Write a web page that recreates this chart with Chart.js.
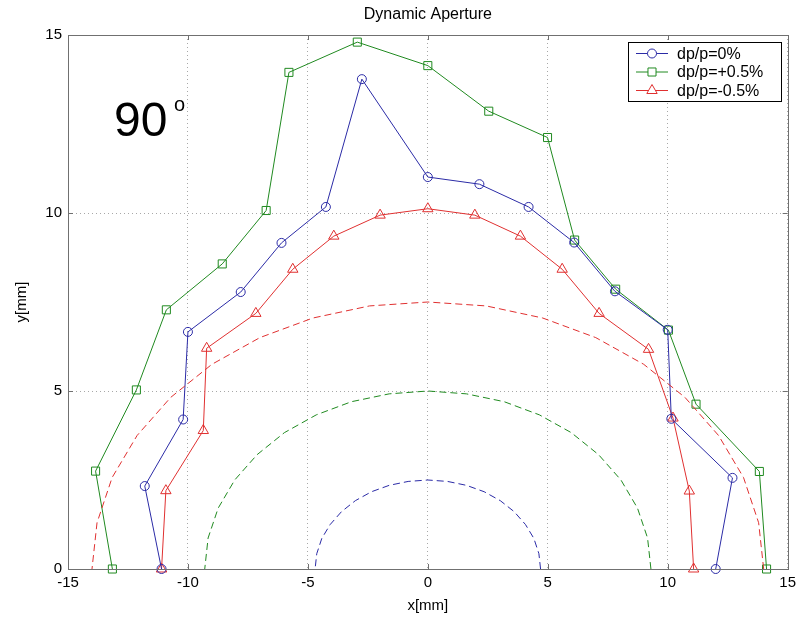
<!DOCTYPE html>
<html>
<head>
<meta charset="utf-8">
<title>Dynamic Aperture</title>
<script src="https://cdn.jsdelivr.net/npm/chart.js@4.4.1/dist/chart.umd.min.js"></script>
<style>
    html, body { margin: 0; padding: 0; background: #ffffff; }
    #chart { display: block; }
</style>
</head>
<body>
<canvas id="chart" width="801" height="625"></canvas>
<script>
// ===================================
// Data
// ===================================

const titleText = 'Dynamic Aperture';
const xAxisLabel = 'x[mm]';
const yAxisLabel = 'y[mm]';
const angleLabel = '90';

const xTicks = [-15, -10, -5, 0, 5, 10, 15];
const yTicks = [0, 5, 10, 15];

const seriesLabels = ['dp/p=0%', 'dp/p=+0.5%', 'dp/p=-0.5%'];

// dp/p = 0%
const zeroX = [-11.1, -11.8, -10.2, -10.0, -7.8, -6.1, -4.25, -2.75, 0, 2.15, 4.2, 6.1, 7.8, 10.0, 10.15, 12.7, 12.0];
const zeroY = [0, 2.33, 4.2, 6.66, 7.78, 9.16, 10.17, 13.76, 11.01, 10.81, 10.17, 9.17, 7.8, 6.72, 4.22, 2.56, 0];

// dp/p = +0.5%
const plusX = [-13.15, -13.85, -12.15, -10.9, -8.57, -6.74, -5.79, -2.94, 0, 2.54, 4.99, 6.12, 7.83, 10.03, 11.18, 13.82, 14.12];
const plusY = [0, 2.75, 5.03, 7.28, 8.57, 10.07, 13.95, 14.8, 14.14, 12.86, 12.12, 9.24, 7.86, 6.71, 4.63, 2.74, 0];

// dp/p = -0.5%
const minusX = [-11.1, -10.92, -9.36, -9.22, -7.17, -5.63, -3.92, -1.99, 0, 1.96, 3.86, 5.6, 7.14, 9.2, 10.22, 10.9, 11.08];
const minusY = [0, 2.2, 3.89, 6.2, 7.18, 8.42, 9.35, 9.94, 10.12, 9.94, 9.35, 8.42, 7.18, 6.17, 4.24, 2.19, 0];

// dashed reference contours
const outerX = [14, 13.79, 13.16, 12.12, 10.72, 9.0, 7.0, 4.79, 2.43, 0, -2.43, -4.79, -7.0, -9.0, -10.72, -12.12, -13.16, -13.79, -14];
const outerY = [0, 1.30, 2.57, 3.75, 4.82, 5.75, 6.50, 7.05, 7.39, 7.5, 7.39, 7.05, 6.50, 5.75, 4.82, 3.75, 2.57, 1.30, 0];

const middleX = [9.3, 9.16, 8.74, 8.05, 7.12, 5.98, 4.65, 3.18, 1.61, 0, -1.61, -3.18, -4.65, -5.98, -7.12, -8.05, -8.74, -9.16, -9.3];
const middleY = [0, 0.87, 1.71, 2.5, 3.21, 3.83, 4.33, 4.70, 4.92, 5, 4.92, 4.70, 4.33, 3.83, 3.21, 2.5, 1.71, 0.87, 0];

const innerX = [4.7, 4.63, 4.42, 4.07, 3.6, 3.02, 2.35, 1.61, 0.82, 0, -0.82, -1.61, -2.35, -3.02, -3.6, -4.07, -4.42, -4.63, -4.7];
const innerY = [0, 0.43, 0.86, 1.25, 1.61, 1.92, 2.17, 2.35, 2.46, 2.5, 2.46, 2.35, 2.17, 1.92, 1.61, 1.25, 0.86, 0.43, 0];

// ===================================
// Chart
// ===================================

const BLUE = '#2b2ba6';
const GREEN = '#208a20';
const RED = '#e03030';
const FRAME = '#707070';
const FONT = '"Liberation Sans", Arial, sans-serif';

function toPoints(xs, ys) {
    return xs.map((x, i) => ({ x: x, y: ys[i] }));
}

function markerSeries(label, xs, ys, color, style, radius) {
    return {
        label: label,
        data: toPoints(xs, ys),
        showLine: true,
        borderColor: color,
        borderWidth: 1,
        pointStyle: style,
        pointRadius: radius,
        pointBorderColor: color,
        pointBackgroundColor: 'rgba(0,0,0,0)',
        pointBorderWidth: 1,
        clip: false
    };
}

function dashedSeries(xs, ys, color) {
    return {
        label: '',
        data: toPoints(xs, ys),
        showLine: true,
        borderColor: color,
        borderWidth: 1,
        borderDash: [7, 4],
        pointRadius: 0,
        inLegend: false
    };
}

// frame, inward ticks, title, legend and the angle note
const decorations = {
    id: 'decorations',
    afterDraw(chart) {
        const ctx = chart.ctx;
        const area = chart.chartArea;
        const xs = chart.scales.x;
        const ys = chart.scales.y;

        ctx.save();
        ctx.strokeStyle = FRAME;
        ctx.lineWidth = 1;
        ctx.setLineDash([]);
        ctx.strokeRect(Math.round(area.left) + 0.5, Math.round(area.top) + 0.5,
            Math.round(area.right - area.left), Math.round(area.bottom - area.top));

        const tick = 5;
        ctx.beginPath();
        xTicks.forEach(v => {
            const px = Math.round(xs.getPixelForValue(v)) + 0.5;
            ctx.moveTo(px, area.bottom); ctx.lineTo(px, area.bottom - tick);
            ctx.moveTo(px, area.top); ctx.lineTo(px, area.top + tick);
        });
        yTicks.forEach(v => {
            const py = Math.round(ys.getPixelForValue(v)) + 0.5;
            ctx.moveTo(area.left, py); ctx.lineTo(area.left + tick, py);
            ctx.moveTo(area.right, py); ctx.lineTo(area.right - tick, py);
        });
        ctx.stroke();

        // title
        ctx.fillStyle = '#000000';
        ctx.font = '16px ' + FONT;
        ctx.textAlign = 'center';
        ctx.textBaseline = 'middle';
        ctx.fillText(titleText, (area.left + area.right) / 2, 15);

        // 90 degree note
        ctx.textAlign = 'left';
        ctx.textBaseline = 'alphabetic';
        ctx.font = '48px ' + FONT;
        ctx.fillText(angleLabel, 114, 136);
        ctx.font = '20px ' + FONT;
        ctx.fillText('o', 174, 111);

        // legend
        const lx = 628, ly = 42, lw = 153, lh = 59;
        ctx.fillStyle = '#ffffff';
        ctx.fillRect(lx, ly, lw, lh);
        ctx.strokeStyle = '#000000';
        ctx.strokeRect(lx + 0.5, ly + 0.5, lw, lh);
        ctx.font = '16px ' + FONT;
        ctx.textBaseline = 'middle';
        chart.data.datasets.forEach(ds => {
            if (ds.inLegend === false) return;
            const i = seriesLabels.indexOf(ds.label);
            const rowY = ly + 11.5 + i * 18.5;
            ctx.strokeStyle = ds.borderColor;
            ctx.beginPath();
            ctx.moveTo(636, rowY);
            ctx.lineTo(668, rowY);
            ctx.stroke();
            ctx.fillStyle = '#ffffff';
            Chart.helpers.drawPoint(ctx, {
                pointStyle: ds.pointStyle,
                radius: ds.pointRadius,
                borderWidth: 1
            }, 652, rowY);
            ctx.fillStyle = '#000000';
            ctx.fillText(ds.label, 677, rowY + 1);
        });
        ctx.restore();
    }
};

const ctx = document.getElementById('chart');

new Chart(ctx, {
    type: 'scatter',
    data: {
        datasets: [
            dashedSeries(outerX, outerY, RED),
            dashedSeries(middleX, middleY, GREEN),
            dashedSeries(innerX, innerY, BLUE),
            markerSeries(seriesLabels[0], zeroX, zeroY, BLUE, 'circle', 4.5),
            markerSeries(seriesLabels[1], plusX, plusY, GREEN, 'rect', 5.7),
            markerSeries(seriesLabels[2], minusX, minusY, RED, 'triangle', 6)
        ]
    },
    options: {
        responsive: false,
        animation: false,
        events: [],
        layout: {
            padding: { top: 35, right: 13, left: 0, bottom: 0 }
        },
        plugins: {
            legend: { display: false },
            tooltip: { enabled: false },
            title: { display: false }
        },
        scales: {
            x: {
                type: 'linear',
                min: -15,
                max: 15,
                afterBuildTicks: scale => { scale.ticks = xTicks.map(v => ({ value: v })); },
                afterFit: scale => { scale.height = 56; },
                grid: { color: '#a8a8a8', drawTicks: false, lineWidth: 1 },
                border: { display: false, dash: [1, 3] },
                ticks: {
                    color: '#000000',
                    padding: 5,
                    maxRotation: 0,
                    font: { family: FONT, size: 15 }
                },
                title: {
                    display: true,
                    text: xAxisLabel,
                    color: '#000000',
                    font: { family: FONT, size: 15 },
                    padding: { top: 0, bottom: 10 }
                }
            },
            y: {
                type: 'linear',
                min: 0,
                max: 15,
                afterBuildTicks: scale => { scale.ticks = yTicks.map(v => ({ value: v })); },
                afterFit: scale => { scale.width = 68; },
                grid: { color: '#a8a8a8', drawTicks: false, lineWidth: 1 },
                border: { display: false, dash: [1, 3] },
                ticks: {
                    color: '#000000',
                    padding: 6,
                    font: { family: FONT, size: 15 }
                },
                title: {
                    display: true,
                    text: yAxisLabel,
                    color: '#000000',
                    font: { family: FONT, size: 15 },
                    padding: { top: 13, bottom: 0 }
                }
            }
        }
    },
    plugins: [decorations]
});
</script>
</body>
</html>
